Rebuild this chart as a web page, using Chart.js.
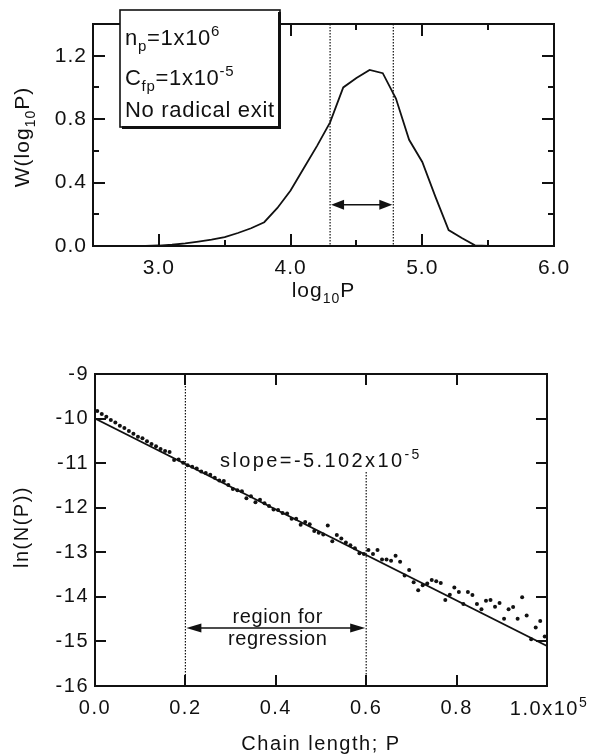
<!DOCTYPE html>
<html>
<head>
<meta charset="utf-8">
<script src="https://cdn.jsdelivr.net/npm/chart.js@4.4.1/dist/chart.umd.min.js"></script>
<style>
  body { margin: 0; background: #fff; width: 591px; height: 754px; overflow: hidden; position: relative; }
  canvas { position: absolute; left: 0; }
  #topChart { top: 0; }
  #bottomChart { top: 340px; }
</style>
</head>
<body>
<canvas id="topChart" width="591" height="310"></canvas>
<canvas id="bottomChart" width="591" height="414"></canvas>
<script>
// ---- top panel: W(log10P) vs log10P
const logP = [2.9, 3.0, 3.1, 3.2, 3.3, 3.4, 3.5, 3.6, 3.7, 3.8, 3.9, 4.0, 4.1, 4.2,
              4.3, 4.4, 4.5, 4.6, 4.7, 4.8, 4.9, 5.0, 5.1, 5.2, 5.3, 5.4, 5.5, 5.6];
const weightW = [0, 0.003, 0.008, 0.016, 0.028, 0.04, 0.056, 0.082, 0.112, 0.15, 0.24, 0.35, 0.49, 0.63,
                 0.78, 1.0, 1.06, 1.11, 1.09, 0.93, 0.67, 0.53, 0.31, 0.10, 0.05, 0.004, 0, 0];
const logPTickLabels = [3.0, 4.0, 5.0, 6.0];
const logPMinorTicks = [3.5, 4.5, 5.5];
const weightTickLabels = [0.0, 0.4, 0.8, 1.2];
const weightMinorTicks = [0.2, 0.6, 1.0];
const widthMarks = [4.3, 4.78];   // dotted lines + double arrow
const arrowW = 0.26;

// ---- bottom panel: ln(N(P)) vs chain length
const chainP = [500, 1500, 2500, 3500, 4500, 5500, 6500, 7500, 8500, 9500,
  10500, 11500, 12500, 13500, 14500, 15500, 16500, 17500, 18500, 19500,
  20500, 21500, 22500, 23500, 24500, 25500, 26500, 27500, 28500, 29500,
  30500, 31500, 32500, 33500, 34500, 35500, 36500, 37500, 38500, 39500,
  40500, 41500, 42500, 43500, 44500, 45500, 46500, 47500, 48500, 49500,
  50500, 51500, 52500, 53500, 54500, 55500, 56500, 57500, 58500, 59500,
  60500, 61500, 62500, 63500, 64500, 65500, 66500, 67500, 68500, 69500,
  70500, 71500, 72500, 73500, 74500, 75500, 76500, 77500, 78500, 79500,
  80500, 81500, 82500, 83500, 84500, 85500, 86500, 87500, 88500, 89500,
  90500, 91500, 92500, 93500, 94500, 95500, 96500, 97500, 98500, 99500];
const lnN = [-9.83, -9.90, -9.96, -10.03, -10.09, -10.16, -10.21, -10.28, -10.34, -10.41,
  -10.44, -10.51, -10.57, -10.62, -10.68, -10.73, -10.75, -10.93, -10.92, -10.99,
  -11.05, -11.08, -11.12, -11.19, -11.22, -11.26, -11.33, -11.39, -11.40, -11.49,
  -11.58, -11.61, -11.63, -11.79, -11.74, -11.88, -11.82, -11.90, -11.96, -12.04,
  -12.05, -12.12, -12.13, -12.25, -12.25, -12.38, -12.32, -12.37, -12.52, -12.56,
  -12.60, -12.40, -12.75, -12.61, -12.69, -12.78, -12.84, -12.91, -13.02, -13.04,
  -12.95, -13.04, -12.95, -13.16, -13.16, -13.19, -13.08, -13.21, -13.52, -13.40,
  -13.67, -13.85, -13.74, -13.70, -13.62, -13.65, -13.69, -14.07, -13.95, -13.79,
  -13.89, -14.16, -13.89, -13.96, -14.16, -14.28, -14.09, -14.07, -14.22, -14.14,
  -14.49, -14.28, -14.23, -14.49, -14.01, -14.42, -14.95, -14.69, -14.54, -14.89];
const fitP = [0, 100000];
const fitLnN = [-10.0, -15.102];
const chainTickLabels = [0.0, 0.2, 0.4, 0.6, 0.8];
const chainTicks = [0, 20000, 40000, 60000, 80000, 100000];
const lnTickLabels = [-16, -15, -14, -13, -12, -11, -10, -9];
const regionBounds = [20000, 60000];
const regionArrowLn = -14.7;

const INK = '#111';
const FONT = '"Liberation Sans", Arial, Helvetica, sans-serif';
Chart.defaults.font.family = FONT;
Chart.defaults.color = INK;

function near(a, b) { return Math.abs(a - b) < 1e-6; }

// text with sub/superscripts, drawn at baseline y
function drawRich(ctx, parts, x, y, size, align, spacing) {
  const small = Math.round(size * 0.68);
  const fontOf = p => (p.s ? small : size) + 'px ' + FONT;
  ctx.letterSpacing = spacing + 'px';
  ctx.textAlign = 'left';
  ctx.textBaseline = 'alphabetic';
  let w = 0;
  parts.forEach(p => { ctx.font = fontOf(p); w += ctx.measureText(p.t).width; });
  let cx = align === 'center' ? x - w / 2 : x;
  parts.forEach(p => {
    ctx.font = fontOf(p);
    const dy = p.s === 'sub' ? size * 0.28 : (p.s === 'sup' ? -size * 0.42 : 0);
    ctx.fillText(p.t, cx, y + dy);
    cx += ctx.measureText(p.t).width;
  });
}

function seg(ctx, x1, y1, x2, y2) {
  ctx.beginPath(); ctx.moveTo(x1, y1); ctx.lineTo(x2, y2); ctx.stroke();
}

function doubleArrow(ctx, x1, x2, y, len, half) {
  ctx.lineWidth = 1.6;
  seg(ctx, x1 + len - 2, y, x2 - len + 2, y);
  ctx.beginPath();
  ctx.moveTo(x1, y); ctx.lineTo(x1 + len, y - half); ctx.lineTo(x1 + len, y + half); ctx.closePath();
  ctx.fill();
  ctx.beginPath();
  ctx.moveTo(x2, y); ctx.lineTo(x2 - len, y - half); ctx.lineTo(x2 - len, y + half); ctx.closePath();
  ctx.fill();
}

// frame + inward tick marks on all four sides; xMarks/yMarks = [[value, length], ...]
function drawFrame(chart, xMarks, yMarks) {
  const ctx = chart.ctx, a = chart.chartArea, x = chart.scales.x, y = chart.scales.y;
  ctx.save();
  ctx.setLineDash([]);
  ctx.fillStyle = INK;
  const L = Math.round(a.left), R = Math.round(a.right), T = Math.round(a.top), B = Math.round(a.bottom);
  ctx.fillRect(L - 1, T - 1, R - L + 2, 2);
  ctx.fillRect(L - 1, B - 1, R - L + 2, 2);
  ctx.fillRect(L - 1, T - 1, 2, B - T + 2);
  ctx.fillRect(R - 1, T - 1, 2, B - T + 2);
  xMarks.forEach(m => {
    const px = Math.round(x.getPixelForValue(m[0]));
    ctx.fillRect(px - 1, B - m[1], 2, m[1]);
    ctx.fillRect(px - 1, T, 2, m[1]);
  });
  yMarks.forEach(m => {
    const py = Math.round(y.getPixelForValue(m[0]));
    ctx.fillRect(L, py - 1, m[1], 2);
    ctx.fillRect(R - m[1], py - 1, m[1], 2);
  });
  ctx.restore();
}

function fixedAxis(w, h) {
  return s => { if (w !== null) s.width = w; if (h !== null) s.height = h; };
}

// ---------------- top chart ----------------
const topMarks = [
  logPTickLabels.map(v => [v, 12]).concat(logPMinorTicks.map(v => [v, 6])),
  weightTickLabels.map(v => [v, 12]).concat(weightMinorTicks.map(v => [v, 6]))
];

const topNotes = {
  id: 'topNotes',
  beforeDraw(chart) { chart.ctx.letterSpacing = '1px'; },
  afterDraw(chart) {
    const ctx = chart.ctx, a = chart.chartArea, x = chart.scales.x, y = chart.scales.y;
    drawFrame(chart, topMarks[0], topMarks[1]);
    ctx.save();
    ctx.strokeStyle = INK; ctx.fillStyle = INK;
    // dotted width markers
    ctx.lineWidth = 1.2;
    ctx.setLineDash([1.5, 1.5]);
    widthMarks.forEach(v => {
      const px = x.getPixelForValue(v);
      seg(ctx, px, a.top, px, a.bottom);
    });
    ctx.setLineDash([]);
    doubleArrow(ctx, x.getPixelForValue(widthMarks[0]) + 1, x.getPixelForValue(widthMarks[1]) - 1,
                y.getPixelForValue(arrowW), 13, 5);

    // legend box
    ctx.fillStyle = '#fff';
    ctx.fillRect(120, 10, 160, 117);
    ctx.fillStyle = INK;
    ctx.fillRect(278, 12, 3, 117);
    ctx.fillRect(122, 126, 159, 3);
    ctx.lineWidth = 1.6;
    ctx.strokeRect(120, 10, 160, 117);
    drawRich(ctx, [{t: 'n'}, {t: 'p', s: 'sub'}, {t: '=1x10'}, {t: '6', s: 'sup'}], 125, 45, 22, 'left', 0.7);
    drawRich(ctx, [{t: 'C'}, {t: 'fp', s: 'sub'}, {t: '=1x10'}, {t: '-5', s: 'sup'}], 125, 85, 22, 'left', 0.7);
    drawRich(ctx, [{t: 'No radical exit'}], 125, 117, 22, 'left', 0.7);

    // axis titles
    drawRich(ctx, [{t: 'log'}, {t: '10', s: 'sub'}, {t: 'P'}], (a.left + a.right) / 2, 297, 21, 'center', 1);
    ctx.save();
    ctx.translate(29, (a.top + a.bottom) / 2 + 2);
    ctx.rotate(-Math.PI / 2);
    drawRich(ctx, [{t: 'W(log'}, {t: '10', s: 'sub'}, {t: 'P)'}], 0, 0, 21, 'center', 1);
    ctx.restore();
    ctx.restore();
  }
};

new Chart(document.getElementById('topChart'), {
  type: 'line',
  data: {
    datasets: [{
      data: logP.map((v, i) => ({x: v, y: weightW[i]})),
      borderColor: INK,
      borderWidth: 1.8,
      pointRadius: 0,
      tension: 0,
      fill: false
    }]
  },
  options: {
    responsive: false,
    animation: false,
    layout: {padding: {top: 24, right: 37, left: 0, bottom: 0}},
    plugins: {legend: {display: false}, tooltip: {enabled: false}},
    scales: {
      x: {
        type: 'linear', min: 2.5, max: 6.0,
        afterFit: fixedAxis(null, 64),
        grid: {display: false, drawTicks: false},
        border: {display: false},
        ticks: {
          stepSize: 0.5, padding: 10, maxRotation: 0, autoSkip: false,
          font: {size: 21},
          callback: v => logPTickLabels.some(l => near(l, v)) ? v.toFixed(1) : ''
        }
      },
      y: {
        min: 0, max: 1.4,
        afterFit: fixedAxis(93, null),
        grid: {display: false, drawTicks: false},
        border: {display: false},
        ticks: {
          stepSize: 0.2, padding: 6, autoSkip: false,
          font: {size: 21},
          callback: v => weightTickLabels.some(l => near(l, v)) ? v.toFixed(1) : ''
        }
      }
    }
  },
  plugins: [topNotes]
});

// ---------------- bottom chart ----------------
const bottomNotes = {
  id: 'bottomNotes',
  beforeDraw(chart) { chart.ctx.letterSpacing = '1.5px'; },
  afterDraw(chart) {
    const ctx = chart.ctx, a = chart.chartArea, x = chart.scales.x, y = chart.scales.y;
    drawFrame(chart, chainTicks.map(v => [v, 11]), lnTickLabels.map(v => [v, 11]));
    ctx.save();
    ctx.strokeStyle = INK; ctx.fillStyle = INK;
    ctx.lineWidth = 1.2;
    ctx.setLineDash([1.5, 1.5]);
    const x1 = x.getPixelForValue(regionBounds[0]), x2 = x.getPixelForValue(regionBounds[1]);
    seg(ctx, x1, a.top, x1, a.bottom);
    seg(ctx, x2, y.getPixelForValue(-11.2), x2, a.bottom);
    ctx.setLineDash([]);
    doubleArrow(ctx, x1 + 1, x2 - 1, y.getPixelForValue(regionArrowLn), 15, 4.5);

    const mid = x.getPixelForValue((regionBounds[0] + regionBounds[1]) / 2) + 2;
    drawRich(ctx, [{t: 'region for'}], mid, 283, 20, 'center', 0.6);
    drawRich(ctx, [{t: 'regression'}], mid, 305, 20, 'center', 0.6);
    drawRich(ctx, [{t: 'slope=-5.102x10'}, {t: '-5', s: 'sup'}], 220, 127, 20, 'left', 2.4);

    // last x tick label with exponent
    drawRich(ctx, [{t: '1.0x10'}, {t: '5', s: 'sup'}], x.getPixelForValue(100000) + 2, a.bottom + 29, 20, 'center', 1.5);

    // axis titles
    drawRich(ctx, [{t: 'Chain length; P'}], (a.left + a.right) / 2, 410, 20, 'center', 1.5);
    ctx.save();
    ctx.translate(28, 187);
    ctx.rotate(-Math.PI / 2);
    drawRich(ctx, [{t: 'ln(N(P))'}], 0, 0, 20, 'center', 1.5);
    ctx.restore();
    ctx.restore();
  }
};

new Chart(document.getElementById('bottomChart'), {
  type: 'scatter',
  data: {
    datasets: [{
      data: chainP.map((v, i) => ({x: v, y: lnN[i]})),
      backgroundColor: INK,
      borderWidth: 0,
      pointRadius: 2
    }, {
      type: 'line',
      data: fitP.map((v, i) => ({x: v, y: fitLnN[i]})),
      borderColor: INK,
      borderWidth: 1.8,
      pointRadius: 0,
      fill: false
    }]
  },
  options: {
    responsive: false,
    animation: false,
    layout: {padding: {top: 34, right: 44, left: 0, bottom: 0}},
    plugins: {legend: {display: false}, tooltip: {enabled: false}},
    scales: {
      x: {
        type: 'linear', min: 0, max: 100000,
        afterFit: fixedAxis(null, 68),
        grid: {display: false, drawTicks: false},
        border: {display: false},
        ticks: {
          stepSize: 20000, padding: 10, maxRotation: 0, autoSkip: false,
          font: {size: 20},
          callback: v => {
            const l = chainTickLabels.find(t => near(t * 100000, v));
            return l === undefined ? '' : l.toFixed(1);
          }
        }
      },
      y: {
        min: -16, max: -9,
        afterFit: fixedAxis(95, null),
        grid: {display: false, drawTicks: false},
        border: {display: false},
        ticks: {
          stepSize: 1, padding: 6, autoSkip: false,
          font: {size: 20},
          callback: v => lnTickLabels.includes(v) ? String(v) : ''
        }
      }
    }
  },
  plugins: [bottomNotes]
});
</script>
</body>
</html>
